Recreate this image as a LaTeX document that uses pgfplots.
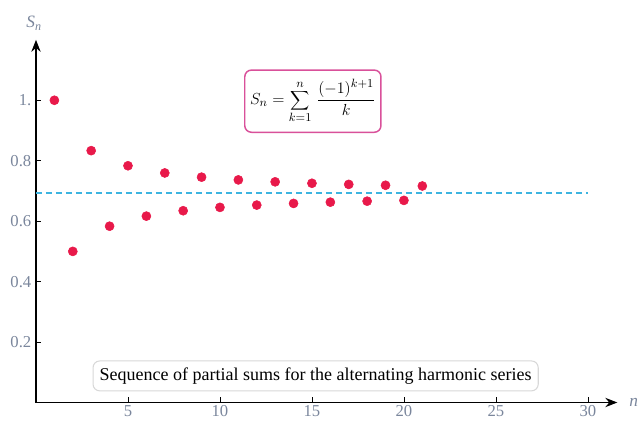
\documentclass[border=0pt]{standalone}
\usepackage{pgfplots}
\pgfplotsset{compat=1.18}
\usepackage{fontspec}
\setmainfont{Liberation Serif}
\usetikzlibrary{arrows.meta}

\definecolor{dotred}{HTML}{E8194A}
\definecolor{limitblue}{HTML}{3DB4E0}
\definecolor{ticklab}{HTML}{7A869C}
\definecolor{boxpink}{HTML}{D9509A}
\definecolor{boxgray}{HTML}{D8D8D8}

% partial sums of the alternating harmonic series
\pgfplotstableread{
n  S
1  1.000000
2  0.500000
3  0.833333
4  0.583333
5  0.783333
6  0.616667
7  0.759524
8  0.634524
9  0.745635
10 0.645635
11 0.736544
12 0.653211
13 0.730134
14 0.658705
15 0.725372
16 0.662872
17 0.721695
18 0.666140
19 0.718771
20 0.668771
21 0.716390
}\partialsums

\pgfplotstableread{
x  y
0  0.693147
30 0.693147
}\limitline

\begin{document}
\begin{tikzpicture}
\begin{axis}[
  scale only axis,
  width=436pt, height=272pt,
  xmin=0, xmax=31.6,
  ymin=0, ymax=1.2,
  axis lines=left,
  axis line style={line width=0.9pt, -{Stealth[length=9pt,width=7pt]}},
  clip=false,
  xtick={5,10,15,20,25,30},
  ytick={0.2,0.4,0.6,0.8,1.0},
  yticklabels={0.2,0.4,0.6,0.8,1.},
  tick align=inside,
  major tick length=4pt,
  tick style={black, line width=0.5pt},
  /pgf/number format/assume math mode=true,
  ticklabel style={font=\fontsize{12.5}{14}\selectfont, text=ticklab},
  xticklabel style={yshift=1pt},
]
\addplot[limitblue, line width=1pt, dash pattern=on 4.5pt off 3pt]
  table[x=x, y=y] {\limitline};
\addplot[only marks, mark=*, mark size=3.4pt, dotred, mark options={draw=dotred, fill=dotred}]
  table[x=n, y=S] {\partialsums};

\node[draw=boxpink, line width=1.1pt, rounded corners=5pt, fill=white,
      inner xsep=4pt, inner ysep=7pt, font=\fontsize{13}{15}\selectfont]
  at (axis cs:15.05,0.997)
  {$\displaystyle S_n=\sum_{k=1}^{n}\,\frac{(-1)^{k+1}}{k}$};

\node[draw=boxgray, line width=0.8pt, rounded corners=5pt, fill=white,
      inner xsep=5pt, inner ysep=5pt, font=\fontsize{13.5}{15}\selectfont]
  at (axis cs:15.2,0.088)
  {Sequence of partial sums for the alternating harmonic series};

\node[text=ticklab, font=\fontsize{13}{15}\selectfont\itshape] at (axis cs:-0.1,1.255) {S\textsubscript{\itshape n}};
\node[text=ticklab, font=\fontsize{13}{15}\selectfont\itshape, anchor=west] at (axis cs:32.0,0) {n};
\end{axis}
\pgfresetboundingbox
\path (-27pt,-14.625pt) rectangle (456pt,301.875pt);
\end{tikzpicture}
\end{document}
